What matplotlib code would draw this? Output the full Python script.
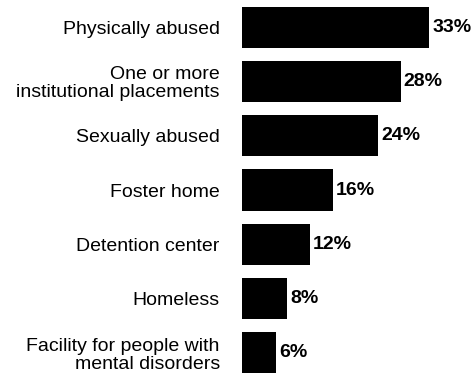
import matplotlib.pyplot as plt

categories = ["Physically abused",
              "One or more\ninstitutional placements",
              "Sexually abused",
              "Foster home",
              "Detention center",
              "Homeless",
              "Facility for people with\nmental disorders"]
values = [33, 28, 24, 16, 12, 8, 6]

plt.rcParams['font.family'] = ['Liberation Sans', 'DejaVu Sans']

fig = plt.figure(figsize=(4.72, 3.73), dpi=100)
ax = fig.add_axes([242 / 472, 0, 230 / 472, 1])

pos = list(range(len(values)))
bars = ax.barh(pos, values, height=0.76, color='black')
ax.bar_label(bars, labels=[f"{v}%" for v in values], padding=2,
             fontsize=14, fontweight='bold')

ax.set_xlim(0, 40.5)
ax.set_ylim(6.37, -0.5)
ax.set_yticks(pos)
ax.set_yticklabels(categories, fontsize=14, linespacing=1.05)
ax.tick_params(axis='y', length=0, pad=16)
ax.set_xticks([])
for s in ax.spines.values():
    s.set_visible(False)

fig.savefig("out.png", dpi=100)
